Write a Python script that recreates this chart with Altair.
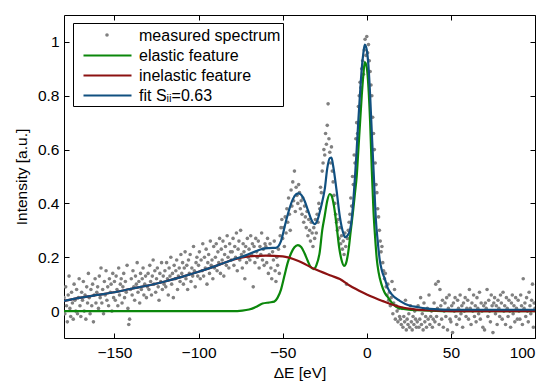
import altair as alt
import pandas as pd

# ---------------- data ----------------
measured_start = -180.0
measured_step = 0.5
measured_y = [
    0.05, -0.01, 0.09, 0.02, -0.04, 0.06, 0.13, 0.01, -0.02, 0.07, 0.03, -0.03, 0.10, 0.04, 0.00, 0.08, -0.01, 0.05, 0.12, 0.02,
    -0.02, 0.07, 0.04, 0.11, 0.00, 0.06, -0.03, 0.09, 0.03, 0.14, 0.05, -0.01, 0.08, 0.02, 0.10, -0.04, 0.06, 0.12, 0.03, 0.07,
    0.09, 0.01, 0.13, 0.05, 0.16, 0.03, 0.08, -0.01, 0.11, 0.06, 0.15, 0.04, 0.09, 0.02, 0.12, 0.07, 0.10, 0.00, 0.14, 0.05,
    0.11, 0.04, 0.13, 0.08, 0.02, 0.16, 0.06, 0.10, 0.12, 0.03, 0.09, 0.14, 0.05, 0.11, 0.07, 0.17, 0.01, -0.05, -0.03, 0.08,
    0.12, 0.06, 0.15, 0.09, 0.04, 0.13, 0.10, 0.18, 0.07, 0.11, 0.03, 0.14, 0.08, 0.12, 0.16, 0.06, 0.10, 0.13, 0.05, 0.09,
    0.14, 0.08, 0.17, 0.11, 0.06, 0.13, 0.19, 0.10, 0.15, 0.07, 0.12, 0.16, 0.09, 0.04, 0.14, 0.11, 0.18, 0.08, 0.13, 0.10,
    0.15, 0.09, 0.18, 0.12, 0.06, 0.16, 0.13, 0.20, 0.10, 0.14, 0.05, 0.17, 0.12, 0.15, 0.19, 0.08, 0.13, 0.16, 0.11, 0.21,
    0.14, 0.18, 0.10, 0.16, 0.22, 0.12, 0.17, 0.08, 0.19, 0.14, 0.21, 0.11, 0.16, 0.13, 0.24, 0.15, 0.09, 0.18, 0.20, 0.13,
    0.17, 0.22, 0.12, 0.19, 0.15, 0.25, 0.13, 0.20, 0.16, 0.23, 0.10, 0.18, 0.21, 0.14, 0.26, 0.17, 0.19, 0.12, 0.24, 0.16,
    0.20, 0.25, 0.15, 0.22, 0.18, 0.27, 0.14, 0.23, 0.19, 0.26, 0.13, 0.21, 0.24, 0.17, 0.28, 0.20, 0.16, 0.25, 0.22, 0.19,
    0.22, 0.27, 0.17, 0.24, 0.20, 0.29, 0.15, 0.23, 0.26, 0.19, 0.30, 0.21, 0.16, 0.25, 0.22, 0.12, 0.24, 0.18, 0.27, 0.20,
    0.23, 0.19, 0.28, 0.21, 0.25, 0.09, 0.24, 0.18, 0.27, 0.22, 0.20, 0.26, 0.16, 0.24, 0.21, 0.29, 0.19, 0.23, 0.17, 0.25,
    0.24, 0.18, 0.27, 0.14, 0.21, 0.25, 0.16, 0.12, 0.22, 0.19, 0.26, 0.15, 0.11, 0.20, 0.17, 0.23, 0.14, 0.28, 0.31, 0.34,
    0.27, 0.31, 0.24, 0.35, 0.29, 0.38, 0.33, 0.42, 0.36, 0.30, 0.45, 0.39, 0.48, 0.41, 0.52, 0.37, 0.46, 0.43, 0.40, 0.47,
    0.44, 0.38, 0.41, 0.36, 0.42, 0.33, 0.39, 0.35, 0.31, 0.37, 0.28, 0.34, 0.30, 0.26, 0.33, 0.29, 0.24, 0.31, 0.27, 0.34,
    0.29, 0.36, 0.33, 0.40, 0.38, 0.46, 0.44, 0.52, 0.55, 0.60, 0.58, 0.66, 0.62, 0.69, 0.77, 0.64, 0.59, 0.55, 0.61, 0.52,
    0.48, 0.43, 0.40, 0.36, 0.33, 0.30, 0.34, 0.27, 0.31, 0.25, 0.28, 0.23, 0.26, 0.21, 0.29, 0.24, 0.10, 0.27, 0.30, 0.33,
    0.36, 0.42, 0.39, 0.50, 0.47, 0.58, 0.55, 0.64, 0.70, 0.66, 0.76, 0.80, 0.85, 0.83, 0.90, 0.93, 0.88, 0.97, 1.01, 0.95,
    1.02, 0.96, 0.99, 0.93, 0.89, 0.84, 0.80, 0.72, 0.66, 0.60, 0.55, 0.47, 0.44, 0.38, 0.35, 0.30, 0.26, 0.22, 0.24, 0.18,
    0.15, 0.12, 0.14, 0.09, 0.06, 0.10, 0.04, 0.07, 0.02, 0.05, 0.11, -0.01, 0.03, 0.08, -0.03, 0.02, 0.00, -0.04, 0.01, -0.02,
    -0.03, -0.05, 0.01, -0.06, -0.02, -0.04, 0.04, -0.07, -0.03, -0.05, -0.01, -0.06, 0.02, -0.04, -0.07, -0.02, -0.05, 0.00, -0.03, -0.06,
    -0.04, 0.02, -0.06, -0.03, 0.05, -0.05, -0.01, -0.07, 0.03, -0.04, -0.02, -0.06, 0.01, -0.03, 0.06, -0.05, -0.02, 0.00, -0.06, -0.03,
    0.03, -0.04, 0.10, -0.02, 0.01, 0.11, -0.05, 0.08, 0.02, -0.03, 0.04, -0.06, 0.00, 0.03, -0.02, 0.05, -0.07, 0.01, 0.06, -0.03,
    -0.04, 0.02, -0.08, 0.03, 0.00, 0.05, -0.02, -0.05, 0.04, 0.01, -0.03, 0.06, -0.01, 0.02, -0.06, 0.03, 0.00, 0.05, -0.02, 0.01,
    0.04, -0.03, 0.08, 0.01, -0.05, 0.03, 0.00, 0.06, -0.02, 0.02, -0.04, 0.05, 0.01, -0.01, 0.07, -0.03, 0.03, 0.00, -0.06, 0.02,
    -0.07, 0.03, 0.01, 0.08, -0.02, 0.04, 0.00, -0.04, 0.06, 0.02, -0.08, 0.03, 0.05, -0.01, 0.02, -0.05, 0.04, 0.01, -0.02, 0.06,
    0.03, -0.03, 0.07, 0.00, 0.02, -0.05, 0.05, 0.01, -0.02, 0.04, 0.00, -0.06, 0.03, 0.06, -0.01, 0.02, -0.04, 0.05, 0.01, -0.03,
    0.04, 0.00, -0.03, 0.06, 0.02, -0.05, 0.12, 0.01, 0.03, -0.02, 0.05, 0.00, -0.04, 0.07, 0.02, -0.01, 0.04, 0.10, -0.06, 0.03, 0.01,
]

elastic_x = [-180, -80, -74, -70, -66, -62, -58, -55, -53, -51, -49, -47, -45, -43, -41, -39, -37, -35,
             -33.5, -31.5, -30, -28, -26.5, -25, -23.5, -22, -21, -19.5, -18, -16.5, -15, -13.5, -12.5,
             -11, -9.5, -8, -7, -6, -5, -4, -3, -2, -1.2, 0, 1, 2, 3, 4, 5, 6, 7, 8.7, 10.5, 12.7,
             15.7, 20, 30, 45, 100]
elastic_y = [0.0, 0.0, 0.002, 0.006, 0.015, 0.028, 0.032, 0.035, 0.05, 0.08, 0.13, 0.18, 0.215, 0.237,
             0.245, 0.238, 0.215, 0.185, 0.165, 0.156, 0.17, 0.218, 0.30, 0.354, 0.41, 0.435, 0.43, 0.39,
             0.32, 0.24, 0.19, 0.168, 0.175, 0.22, 0.30, 0.38, 0.44, 0.50, 0.60, 0.70, 0.80, 0.88, 0.925,
             0.905, 0.83, 0.70, 0.52, 0.37, 0.27, 0.19, 0.145, 0.10, 0.07, 0.05, 0.025, 0.01, 0.003, 0.0, 0.0]

inelastic_x = [-180, -170, -160, -150, -140, -130, -120, -110, -100, -90, -80, -70, -60, -50, -41, -31,
               -21, -16, -10, 0, 2, 10, 14, 20, 26, 35, 50, 100]
inelastic_y = [0.038, 0.05, 0.06, 0.07, 0.083, 0.095, 0.11, 0.127, 0.146, 0.167, 0.19, 0.203, 0.206,
               0.203, 0.187, 0.156, 0.131, 0.119, 0.094, 0.062, 0.056, 0.036, 0.026, 0.015, 0.008, 0.003,
               0.0, 0.0]

fit_x = [-180, -170, -160, -150, -140, -130, -120, -110, -100, -90, -80, -72, -66, -62, -58, -54, -51,
         -48, -46, -44, -42, -40.5, -39, -37, -35, -33, -31, -29.5, -28, -26, -25, -23.5, -22, -21, -20,
         -18, -16, -14, -13, -12, -11, -10, -9, -8, -7, -6, -5, -4, -3, -2, -1.2, 0, 1, 2, 3, 4.2, 5.4,
         6.5, 7.7, 9, 10.7, 12.5, 14.7, 19.6, 25.6, 30, 35, 40, 50, 100]
fit_y = [0.038, 0.05, 0.06, 0.07, 0.083, 0.095, 0.11, 0.127, 0.146, 0.167, 0.19, 0.207, 0.222, 0.231,
         0.234, 0.235, 0.26, 0.335, 0.38, 0.415, 0.434, 0.437, 0.432, 0.41, 0.375, 0.34, 0.323, 0.335,
         0.367, 0.42, 0.453, 0.53, 0.568, 0.57, 0.54, 0.45, 0.35, 0.29, 0.275, 0.277, 0.285, 0.30, 0.34,
         0.41, 0.50, 0.60, 0.71, 0.81, 0.90, 0.96, 0.99, 0.97, 0.91, 0.80, 0.66, 0.50, 0.34, 0.26, 0.19,
         0.15, 0.12, 0.085, 0.063, 0.038, 0.02, 0.015, 0.01, 0.007, 0.005, 0.005]

series_names = ["measured spectrum", "elastic feature", "inelastic feature", "fit S\u1d62\u1d62=0.63"]
point_color = "#808080"
# the first legend row gets its dot from the points' own legend laid on top
series_colors = ["transparent", "#0b870b", "#8c1212", "#115080"]

x_ticks = [-150, -100, -50, 0, 50, 100]
y_ticks = [0, 0.2, 0.4, 0.6, 0.8, 1]

# ---------------- frames ----------------
measured = pd.DataFrame({
    "E": [measured_start + measured_step * i for i in range(len(measured_y))],
    "I": measured_y,
    "src": series_names[0],
})

curves = pd.concat([
    pd.DataFrame({"E": elastic_x, "I": elastic_y, "series": series_names[1]}),
    pd.DataFrame({"E": inelastic_x, "I": inelastic_y, "series": series_names[2]}),
    pd.DataFrame({"E": fit_x, "I": fit_y, "series": series_names[3]}),
], ignore_index=True)

FONT = "Liberation Sans"
xscale = alt.Scale(domain=[-180, 100], nice=False, zero=False)
yscale = alt.Scale(domain=[-0.1, 1.1], nice=False, zero=False)

line_legend = alt.Legend(
    title=None, orient="none", legendX=9, legendY=8, zindex=0,
    symbolType="M-2.8235,0H2.8235", symbolSize=289, symbolStrokeWidth=2.2,
    symbolOffset=22, labelOffset=21.5, padding=2.5, rowPadding=2,
    fillColor="white", strokeColor="black",
    labelFont=FONT, labelFontSize=16, labelColor="black", labelLimit=400,
)

dot_legend = alt.Legend(
    title=None, orient="none", legendX=9, legendY=8, zindex=1,
    symbolType="circle", symbolSize=13, symbolFillColor=point_color,
    symbolStrokeColor="transparent", symbolStrokeWidth=0,
    symbolOffset=22, labelOffset=21.5, padding=2.5,
    labelExpr="''", labelFont=FONT, labelFontSize=19,
)

common_axis = dict(domain=False, grid=False, ticks=True, tickSize=5, offset=-5,
                   tickColor="black", tickWidth=1,
                   labelFont=FONT, labelFontSize=15.5, labelColor="black",
                   titleFont=FONT, titleFontSize=15.5, titleColor="black",
                   titleFontWeight="normal")

points = alt.Chart(measured).mark_point(filled=True, size=13, color=point_color, opacity=1,
                                        strokeWidth=0, clip=True).encode(
    x=alt.X("E:Q", scale=xscale,
            axis=alt.Axis(orient="bottom", values=x_ticks, title="\u0394E [eV]",
                          labelPadding=7, titlePadding=5, **common_axis)),
    y=alt.Y("I:Q", scale=yscale,
            axis=alt.Axis(orient="left", values=y_ticks, format="~g", title="Intensity [a.u.]",
                          labelPadding=5, titlePadding=8, **common_axis)),
    shape=alt.Shape("src:N", scale=alt.Scale(domain=[series_names[0]], range=["circle"]),
                    legend=dot_legend),
)

lines = alt.Chart(curves).mark_line(strokeWidth=2.2, interpolate="monotone", clip=True).encode(
    x=alt.X("E:Q", scale=xscale,
            axis=alt.Axis(orient="top", values=x_ticks, labels=False, title=None, **common_axis)),
    y=alt.Y("I:Q", scale=yscale,
            axis=alt.Axis(orient="right", values=y_ticks, labels=False, title=None, **common_axis)),
    color=alt.Color("series:N", scale=alt.Scale(domain=series_names, range=series_colors),
                    legend=line_legend),
)

chart = alt.layer(points, lines).properties(
    width=471, height=323,
    autosize=alt.AutoSizeParams(type="none"),
    padding={"left": 56, "top": 7, "right": 6, "bottom": 46},
    background="white",
).configure_view(
    stroke="black", strokeWidth=1,
)

chart.save("out.html", embed_options={"renderer": "svg", "actions": False})
